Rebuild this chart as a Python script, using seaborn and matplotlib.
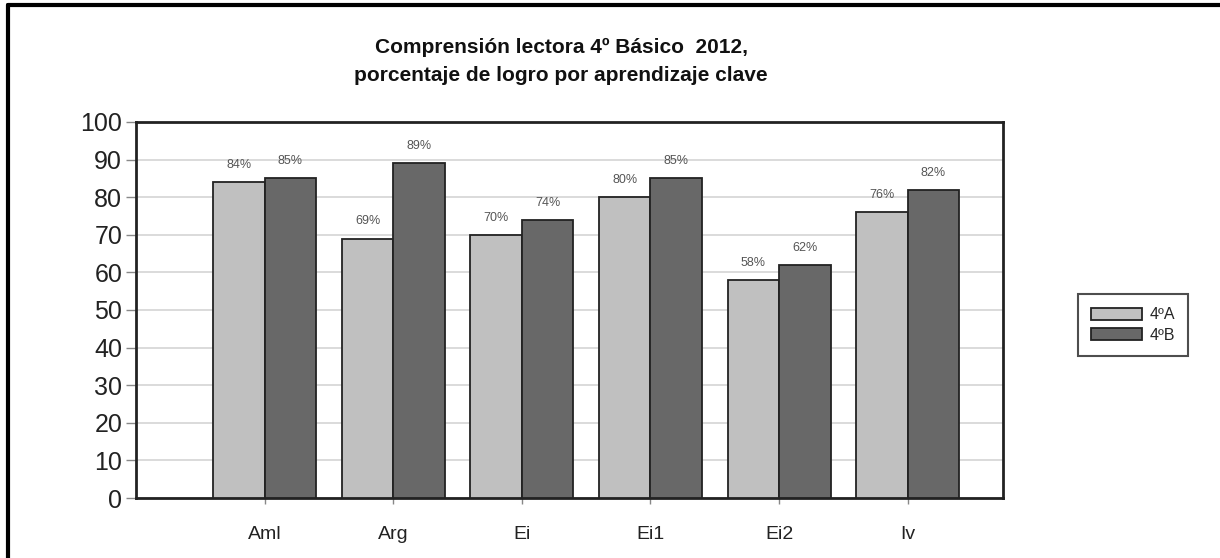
import matplotlib
matplotlib.use("Agg")
import matplotlib.pyplot as plt
import seaborn as sns
import pandas as pd
from matplotlib.lines import Line2D

categories = ["Aml", "Arg", "Ei", "Ei1", "Ei2", "Iv"]
series_names = ["4ºA", "4ºB"]
values_4A = [84, 69, 70, 80, 58, 76]
values_4B = [85, 89, 74, 85, 62, 82]
yticks = [0, 10, 20, 30, 40, 50, 60, 70, 80, 90, 100]
title = "Comprensión lectora 4º Básico  2012,\nporcentaje de logro por aprendizaje clave"

df = pd.DataFrame({
    "cat": categories * 2,
    "grupo": [series_names[0]] * len(categories) + [series_names[1]] * len(categories),
    "valor": values_4A + values_4B,
})

sns.set_theme(style="white")
plt.rcParams["font.family"] = ["Liberation Sans", "DejaVu Sans"]

fig = plt.figure(figsize=(12.2, 5.58), dpi=100)
ax = fig.add_axes([0.1115, 0.1075, 0.7105, 0.674])

sns.barplot(data=df, x="cat", y="valor", hue="grupo", order=categories,
            hue_order=series_names, palette=["#c0c0c0", "#686868"],
            width=0.8, edgecolor="#222222", linewidth=1.3, ax=ax, zorder=3)

for cont in ax.containers:
    ax.bar_label(cont, fmt="{:.0f}%", padding=8, fontsize=9, color="#555555")

ax.set_ylim(0, 100)
ax.set_xlim(-1.0, 5.74)
ax.set_yticks(yticks)
ax.set_yticklabels([str(v) for v in yticks], fontsize=18, color="#222222")
ax.tick_params(axis="x", labelsize=14, length=4, width=1,
               direction="out", bottom=True, pad=16, colors="#888888", labelcolor="#222222")
ax.tick_params(axis="y", length=7, width=1, direction="out", left=True,
               pad=3, colors="#888888", labelcolor="#222222")
ax.set_xlabel("")
ax.set_ylabel("")
ax.yaxis.grid(True, color="#d4d4d4", linewidth=1.2, zorder=0)
ax.set_axisbelow(True)
for s in ["left", "bottom", "top", "right"]:
    ax.spines[s].set_visible(True)
    ax.spines[s].set_color("#222222")
    ax.spines[s].set_linewidth(2)

fig.text(0.46, 0.89, title, ha="center", va="center", fontsize=15,
         fontweight="bold", color="#111111", linespacing=1.6)

leg = ax.legend(loc="center left", bbox_to_anchor=(1.0865, 0.46), fontsize=11.5,
                frameon=True, fancybox=False, edgecolor="#222222",
                handlelength=3.2, handleheight=0.8, borderpad=0.8,
                labelspacing=0.35, handletextpad=0.5, borderaxespad=0.0, title=None)
leg.get_frame().set_linewidth(1.5)

# outer frame (left and top visible)
fig.add_artist(Line2D([8 / 1220, 8 / 1220], [0, 1 - 5 / 558], transform=fig.transFigure,
                      color="black", linewidth=3))
fig.add_artist(Line2D([8 / 1220, 1], [1 - 5 / 558, 1 - 5 / 558], transform=fig.transFigure,
                      color="black", linewidth=3))

fig.savefig("out.png", dpi=100)
